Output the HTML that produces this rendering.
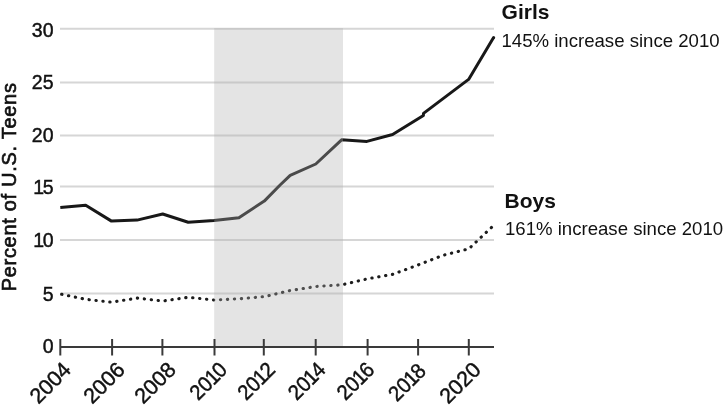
<!DOCTYPE html>
<html>
<head>
<meta charset="utf-8">
<style>
html,body{margin:0;padding:0;background:#fff;}
body{width:728px;height:408px;overflow:hidden;}
svg{display:block;will-change:transform;filter:blur(0.3px);}
.ax{font-family:"Liberation Sans",sans-serif;font-size:19.5px;fill:#111;stroke:#111;stroke-width:0.45px;}
.lab{font-family:"Liberation Sans",sans-serif;fill:#111;}
</style>
</head>
<body>
<svg width="728" height="408" viewBox="0 0 728 408">
  <!-- gridlines -->
  <g stroke="#d6d6d6" stroke-width="2">
    <line x1="60" y1="28.8" x2="494" y2="28.8"/>
    <line x1="60" y1="82.4" x2="494" y2="82.4"/>
    <line x1="60" y1="135.5" x2="494" y2="135.5"/>
    <line x1="60" y1="186.6" x2="494" y2="186.6"/>
    <line x1="60" y1="240" x2="494" y2="240"/>
    <line x1="60" y1="293.6" x2="494" y2="293.6"/>
  </g>
  <!-- girls line -->
  <polyline fill="none" stroke="#181818" stroke-width="3" stroke-linejoin="round" stroke-linecap="butt"
    points="60.3,207.5 85.7,205.2 111.5,221.1 137.1,220.1 162.7,214.0 188.2,222.2 214.0,220.4 238.9,217.7 264.3,201.1 280.1,185 290.2,175.3 315.8,164.0 341.6,139.8 366.9,141.4 392.6,134.5 423.4,115.4 423.5,113.4 468.6,79.4 493.6,37.5"/>
  <circle cx="493.6" cy="37.5" r="1.5" fill="#181818"/>
  <!-- boys line -->
  <polyline fill="none" stroke="#1c1c1c" stroke-width="3.1" stroke-linecap="round" stroke-dasharray="0.3 6.671" stroke-dashoffset="-1.39"
    points="60.3,294 85.7,299.3 111.5,302.2 137.1,298.1 162.7,301 188.2,297.3 214,300 239.5,298.8 264.5,296.6 290,290.6 316,286.5 342,284.8 367.6,278.8 392.8,274.3 418,265 443.5,255.2 468.8,248.8 493.6,225.5"/>
  <!-- shade overlay -->
  <rect x="214.2" y="28" width="128.8" height="318" fill="rgb(175,175,175)" fill-opacity="0.34"/>
  <!-- axis -->
  <line x1="60" y1="347" x2="494" y2="347" stroke="#3a3a3a" stroke-width="2.2"/>
  <g stroke="#3a3a3a" stroke-width="2">
    <line x1="60.3" y1="339" x2="60.3" y2="355.5"/>
    <line x1="112.1" y1="339" x2="112.1" y2="355.5"/>
    <line x1="162.4" y1="339" x2="162.4" y2="355.5"/>
    <line x1="214.5" y1="339" x2="214.5" y2="355.5"/>
    <line x1="263.8" y1="339" x2="263.8" y2="355.5"/>
    <line x1="315.7" y1="339" x2="315.7" y2="355.5"/>
    <line x1="367.6" y1="339" x2="367.6" y2="355.5"/>
    <line x1="418.1" y1="339" x2="418.1" y2="355.5"/>
    <line x1="468.8" y1="339" x2="468.8" y2="355.5"/>
  </g>
  <!-- y tick labels -->
  <g class="ax" text-anchor="end">
    <text x="53.5" y="36.5">30</text>
    <text x="53.5" y="89">25</text>
    <text x="53.5" y="141.8">20</text>
    <text x="53.5" y="193.5">1<tspan dx="-1.5">5</tspan></text>
    <text x="53.5" y="247">1<tspan dx="-1.5">0</tspan></text>
    <text x="53.5" y="300.5">5</text>
    <text x="53.5" y="353">0</text>
  </g>
  <!-- y axis title -->
  <text class="lab" style="font-size:20px;letter-spacing:0.7px;stroke:#111;stroke-width:0.65px" transform="translate(15.8,291.3) rotate(-90)">Percent of U.S. Teens</text>
  <!-- x tick labels -->
  <g class="ax" style="font-size:21.5px" text-anchor="end">
    <text transform="translate(72.3,371.0) rotate(-45)">2004</text>
    <text transform="translate(126.1,371.0) rotate(-45)">2006</text>
    <text transform="translate(177.2,371.0) rotate(-45)">2008</text>
    <text transform="translate(228.5,371.0) rotate(-45) scale(0.94,1)">20<tspan dx="-1">1</tspan><tspan dx="-1.3">0</tspan></text>
    <text transform="translate(276.5,371.0) rotate(-45) scale(0.94,1)">20<tspan dx="-1">1</tspan><tspan dx="-1.3">2</tspan></text>
    <text transform="translate(327.0,371.0) rotate(-45) scale(0.94,1)">20<tspan dx="-1">1</tspan><tspan dx="-1.3">4</tspan></text>
    <text transform="translate(375.8,371.0) rotate(-45) scale(0.94,1)">20<tspan dx="-1">1</tspan><tspan dx="-1.3">6</tspan></text>
    <text transform="translate(427.3,372.2) rotate(-45) scale(0.94,1)">20<tspan dx="-1">1</tspan><tspan dx="-1.3">8</tspan></text>
    <text transform="translate(482.1,371.0) rotate(-45)">2020</text>
  </g>
  <!-- right labels -->
  <text class="lab" x="501.6" y="19.4" font-size="21" font-weight="bold">Girls</text>
  <text class="lab" x="501.5" y="46.5" font-size="18.6">145% increase since 2010</text>
  <text class="lab" x="504.6" y="208.2" font-size="21" font-weight="bold">Boys</text>
  <text class="lab" x="505" y="235" font-size="18.6">161% increase since 2010</text>
</svg>
</body>
</html>
